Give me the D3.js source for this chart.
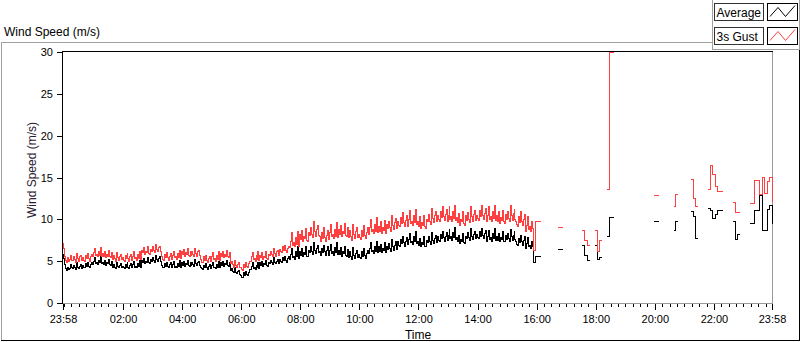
<!DOCTYPE html>
<html>
<head>
<meta charset="utf-8">
<script src="https://cdn.jsdelivr.net/npm/d3@7"></script>
<style>
html,body{margin:0;padding:0;background:#fff;}
svg{display:block;font-family:"Liberation Sans",Arial,sans-serif;}
</style>
</head>
<body>
<svg id="chart" width="800" height="342"></svg>
<script>
const _ = null;
const chartTitle = "Wind Speed (m/s)";
const yAxisTitle = "Wind Speed (m/s)";
const xAxisTitle = "Time";
const seriesNames = ["Average", "3s Gust"];
const seriesColors = ["#000000", "#ff4040"];
const startTime = "23:58";
const xTickLabels = ["23:58","02:00","04:00","06:00","08:00","10:00","12:00","14:00","16:00","18:00","20:00","22:00","23:58"];
const yTickValues = [0,5,10,15,20,25,30];

// continuous record: one sample every 2 minutes from 23:58
const denseStepMin = 2;
const denseAvg = [
5.8,5.3,4.6,4.1,3.9,4.3,4.0,4.1,4.6,4.2,
4.1,4.5,4.2,4.0,4.8,4.3,4.1,4.4,4.6,4.1,
4.5,4.3,4.2,4.7,4.4,4.9,4.4,4.2,4.6,4.8,
4.6,5.0,5.4,4.7,4.8,4.6,5.1,4.8,5.5,4.7,
4.9,4.6,5.1,4.5,4.8,4.7,5.2,4.6,4.5,5.0,
4.2,4.6,4.3,4.1,4.9,4.4,4.2,4.5,4.7,4.2,
4.4,4.2,4.1,4.6,4.3,4.8,4.3,4.1,4.5,4.7,
4.2,4.6,5.0,4.3,4.4,4.2,4.7,4.4,5.1,4.3,
5.1,4.8,5.3,4.7,5.0,4.9,5.4,4.8,4.7,5.2,
5.0,5.4,5.1,4.9,5.7,5.2,5.0,5.3,5.5,5.0,
4.5,4.3,4.2,4.7,4.4,4.9,4.4,4.2,4.6,4.8,
4.2,4.6,5.0,4.3,4.4,4.2,4.7,4.4,5.1,4.3,
4.8,4.5,5.0,4.4,4.7,4.6,5.1,4.5,4.4,4.9,
4.5,4.9,4.6,4.4,5.2,4.7,4.5,4.8,5.0,4.5,
4.3,4.1,4.0,4.5,4.2,4.7,4.2,4.0,4.4,4.6,
4.1,4.5,4.9,4.2,4.3,4.1,4.6,4.3,5.0,4.2,
4.8,4.5,5.0,4.4,4.7,4.6,5.1,4.5,4.4,4.9,
3.9,4.1,3.8,3.6,4.2,3.7,3.5,3.8,3.9,3.4,
3.3,3.1,3.0,3.6,3.3,3.8,3.4,3.3,3.7,4.0,
4.0,4.4,4.8,4.1,4.2,4.0,4.5,4.2,4.9,4.1,
4.8,4.5,5.0,4.4,4.7,4.6,5.1,4.5,4.4,4.9,
4.7,5.1,4.8,4.6,5.4,4.9,4.7,5.0,5.2,4.7,
5.2,5.0,4.9,5.4,5.1,5.6,5.1,4.9,5.3,5.5,
5.2,5.8,6.5,5.4,5.6,5.2,6.1,5.5,6.7,5.3,
6.2,5.7,6.5,5.5,6.0,5.8,6.7,5.6,5.5,6.3,
6.0,6.7,6.1,5.8,7.2,6.3,5.9,6.5,6.9,6.0,
6.2,5.8,5.7,6.5,6.0,6.9,6.1,5.7,6.3,6.7,
5.7,6.3,7.0,5.9,6.1,5.7,6.6,6.0,7.2,5.8,
6.3,5.8,6.6,5.6,6.1,5.9,6.8,5.7,5.6,6.4,
5.4,6.1,5.5,5.2,6.6,5.7,5.3,5.9,6.3,5.4,
5.8,5.4,5.3,6.1,5.6,6.5,5.7,5.3,5.9,6.3,
5.9,6.5,7.2,6.1,6.3,5.9,6.8,6.2,7.4,6.0,
6.7,6.2,7.0,6.0,6.5,6.3,7.2,6.1,6.0,6.8,
6.4,7.1,6.5,6.2,7.6,6.7,6.3,6.9,7.3,6.4,
7.3,6.9,6.8,7.6,7.1,8.0,7.2,6.8,7.4,7.8,
7.0,7.6,8.3,7.2,7.4,7.0,7.9,7.3,8.5,7.1,
7.4,6.9,7.7,6.7,7.2,7.0,7.9,6.8,6.7,7.5,
7.2,7.9,7.3,7.0,8.4,7.5,7.1,7.7,8.1,7.2,
7.9,7.5,7.4,8.2,7.7,8.6,7.8,7.4,8.0,8.4,
7.5,8.1,8.8,7.7,7.9,7.5,8.4,7.8,9.0,7.6,
7.8,7.3,8.1,7.1,7.6,7.4,8.3,7.2,7.1,7.9,
7.7,8.4,7.8,7.5,8.9,8.0,7.6,8.2,8.6,7.7,
8.2,7.8,7.7,8.5,8.0,8.9,8.1,7.7,8.3,8.7,
7.4,8.0,8.7,7.6,7.8,7.4,8.3,7.7,8.9,7.5,
8.0,7.5,8.3,7.3,7.8,7.6,8.5,7.4,7.3,8.1,
7.6,8.3,7.7,7.4,8.8,7.9,7.5,8.1,8.5,7.6,
7.4,7.0,6.9,7.7,7.2,8.1,7.3,6.9,7.5,7.9,
6.5,7.1,7.8,6.7,6.9,6.5,7.4,6.8
];
const denseGust = [
7.1,6.5,5.6,5.1,4.9,5.4,5.0,5.2,5.7,5.1,
5.1,5.6,5.2,4.9,5.9,5.3,5.0,5.5,5.7,5.1,
5.4,5.1,5.0,5.7,5.3,5.9,5.3,5.0,5.5,5.8,
5.5,6.0,6.5,5.7,5.8,5.5,6.2,5.7,6.6,5.6,
5.9,5.6,6.2,5.4,5.8,5.6,6.3,5.5,5.4,6.0,
5.2,5.7,5.3,5.0,6.0,5.4,5.1,5.6,5.8,5.2,
5.4,5.1,5.0,5.7,5.3,5.9,5.3,5.0,5.5,5.8,
5.1,5.6,6.1,5.3,5.4,5.1,5.8,5.3,6.2,5.2,
6.3,6.0,6.6,5.8,6.2,6.0,6.7,5.9,5.8,6.4,
6.2,6.7,6.3,6.0,7.0,6.4,6.1,6.6,6.8,6.2,
5.5,5.2,5.1,5.8,5.4,6.0,5.4,5.1,5.6,5.9,
5.2,5.7,6.2,5.4,5.5,5.2,5.9,5.4,6.3,5.3,
6.1,5.8,6.4,5.6,6.0,5.8,6.5,5.7,5.6,6.2,
5.7,6.2,5.8,5.5,6.5,5.9,5.6,6.1,6.3,5.7,
5.2,4.9,4.8,5.5,5.1,5.7,5.1,4.8,5.3,5.6,
5.0,5.5,6.0,5.2,5.3,5.0,5.7,5.2,6.1,5.1,
5.9,5.6,6.2,5.4,5.8,5.6,6.3,5.5,5.4,6.0,
4.7,5.0,4.6,4.3,5.1,4.5,4.2,4.6,4.8,4.2,
4.3,4.0,3.9,4.6,4.3,4.8,4.4,4.2,4.7,5.0,
5.0,5.5,6.0,5.2,5.3,5.0,5.7,5.2,6.1,5.1,
5.7,5.4,6.0,5.2,5.6,5.4,6.1,5.3,5.2,5.8,
5.7,6.2,5.8,5.5,6.5,5.9,5.6,6.1,6.3,5.7,
6.4,6.1,6.0,6.7,6.3,6.9,6.3,6.0,6.5,6.8,
6.6,7.4,8.4,6.9,7.2,6.7,7.8,7.0,8.6,6.8,
8.2,7.6,8.7,7.3,8.0,7.7,8.9,7.5,7.3,8.4,
8.1,9.0,8.2,7.8,9.7,8.5,8.0,8.8,9.3,8.1,
7.9,7.5,7.3,8.4,7.7,9.0,7.8,7.4,8.1,8.7,
7.6,8.4,9.4,7.9,8.2,7.7,8.8,8.0,9.6,7.8,
8.8,8.2,9.3,7.9,8.6,8.3,9.5,8.1,7.9,9.0,
7.8,8.7,7.9,7.5,9.4,8.2,7.7,8.5,9.0,7.8,
8.2,7.8,7.6,8.7,8.0,9.3,8.1,7.7,8.4,9.0,
8.2,9.0,10.0,8.5,8.8,8.3,9.4,8.6,10.2,8.4,
9.2,8.6,9.7,8.3,9.0,8.7,9.9,8.5,8.3,9.4,
8.9,9.8,9.0,8.6,10.5,9.3,8.8,9.6,10.1,8.9,
9.7,9.3,9.1,10.2,9.5,10.8,9.6,9.2,9.9,10.5,
9.2,10.0,11.0,9.5,9.8,9.3,10.4,9.6,11.2,9.4,
9.8,9.2,10.3,8.9,9.6,9.3,10.5,9.1,8.9,10.0,
9.7,10.6,9.8,9.4,11.3,10.1,9.6,10.4,10.9,9.7,
10.4,10.0,9.8,10.9,10.2,11.5,10.3,9.9,10.6,11.2,
9.7,10.5,11.5,10.0,10.3,9.8,10.9,10.1,11.7,9.9,
10.2,9.6,10.7,9.3,10.0,9.7,10.9,9.5,9.3,10.4,
9.9,10.8,10.0,9.6,11.5,10.3,9.8,10.6,11.1,9.9,
10.5,10.1,9.9,11.0,10.3,11.6,10.4,10.0,10.7,11.3,
9.7,10.5,11.5,10.0,10.3,9.8,10.9,10.1,11.7,9.9,
10.4,9.8,10.9,9.5,10.2,9.9,11.1,9.7,9.5,10.6,
10.0,10.9,10.1,9.7,11.6,10.4,9.9,10.7,11.2,10.0,
9.8,9.4,9.2,10.3,9.6,10.9,9.7,9.3,10.0,10.6,
8.5,9.3,10.3,8.8,9.1,8.6,9.7,8.9
];

// patchy record after 15:53: one sample every 5 minutes, null = no data
const lateStartMin = 955;
const lateStepMin = 5;
const lateAvg = [
4.9,5.5,5.5,5.5,_,_,_,_,_,
_,6.4,6.4,6.4,_,_,_,_,_,_,
_,6.9,5.7,5.1,5.1,_,6.9,5.2,5.4,5.4,
_,7.9,10.2,10.2,10.2,_,_,_,_,_,
_,_,_,_,_,_,_,_,_,_,
9.7,9.7,9.7,_,_,_,_,_,8.7,9.8,
9.8,_,_,_,_,10.9,10.3,7.7,7.7,_,
_,_,11.3,11.1,10.1,10.6,11.0,11.0,11.0,_,
_,_,9.8,7.6,8.2,8.2,_,_,_,9.5,
9.5,11.1,11.1,12.9,8.7,8.7,11.2,11.6,9.5
];
const lateGust = [
6.3,9.7,9.7,9.7,_,_,_,_,_,
_,9.0,9.0,9.0,_,_,_,_,_,_,
_,8.7,7.5,6.9,6.9,_,8.7,6.1,7.5,7.5,
_,13.6,30,30,30,_,_,_,_,_,
_,_,_,_,_,_,_,_,_,_,
12.9,12.9,12.9,_,_,_,_,_,11.5,13.0,
13.0,_,_,_,_,14.8,12.5,11.5,11.5,_,
_,_,13.6,16.4,15.3,13.9,13.3,13.3,13.3,_,
_,_,12.0,10.8,10.8,10.8,_,_,_,11.9,
11.9,14.6,14.6,13.0,15.0,13.1,14.5,15.0,12.1
];

const svg = d3.select("#chart");
const plotL = 63, plotR = 772, plotT = 52, plotB = 303;
const totalMin = 1440;

function toMin(lbl, isLast) {
  if (isLast) return totalMin;
  const [sh, sm] = startTime.split(":").map(Number);
  const [h, m] = lbl.split(":").map(Number);
  return ((h * 60 + m) - (sh * 60 + sm) + totalMin) % totalMin;
}
const majorTicks = xTickLabels.map((l, i) => toMin(l, i === xTickLabels.length - 1));
const minorTicks = d3.range(2, totalMin, 15).filter(m => !majorTicks.includes(m));

const x = d3.scaleLinear().domain([0, totalMin]).range([plotL, plotR]);
const y = d3.scaleLinear().domain([0, 30]).range([plotB, plotT]);

// outer frame
const frame = svg.append("g").attr("shape-rendering", "crispEdges");
frame.append("line").attr("x1", 1).attr("x2", 712.5).attr("y1", 42.5).attr("y2", 42.5).attr("stroke", "#a0a0a0");
frame.append("line").attr("x1", 1.5).attr("x2", 1.5).attr("y1", 42).attr("y2", 341).attr("stroke", "#a0a0a0");
frame.append("line").attr("x1", 1).attr("x2", 800).attr("y1", 340.5).attr("y2", 340.5).attr("stroke", "#000");
frame.append("line").attr("x1", 799.5).attr("x2", 799.5).attr("y1", 50).attr("y2", 341).attr("stroke", "#000");
frame.append("line").attr("x1", 712.5).attr("x2", 712.5).attr("y1", 0).attr("y2", 49.5).attr("stroke", "#a0a0a0");
frame.append("line").attr("x1", 712.5).attr("x2", 799).attr("y1", 49.5).attr("y2", 49.5).attr("stroke", "#a0a0a0");
frame.append("line").attr("x1", 799.5).attr("x2", 799.5).attr("y1", 0).attr("y2", 49.5).attr("stroke", "#a0a0a0");

// title
svg.append("text").attr("x", 4).attr("y", 35.5).attr("font-size", 12).attr("fill", "#000").text(chartTitle);

// plot frame
const pf = svg.append("g").attr("shape-rendering", "crispEdges");
pf.append("rect").attr("x", plotL).attr("y", plotT).attr("width", plotR - plotL).attr("height", plotB - plotT).attr("fill", "#fff");
pf.append("line").attr("x1", plotL - 1).attr("x2", plotR + 1).attr("y1", plotT - 0.5).attr("y2", plotT - 0.5).attr("stroke", "#000");
pf.append("line").attr("x1", plotL - 0.5).attr("x2", plotL - 0.5).attr("y1", plotT - 1).attr("y2", plotB + 1).attr("stroke", "#000");
pf.append("line").attr("x1", plotR + 0.5).attr("x2", plotR + 0.5).attr("y1", plotT).attr("y2", plotB + 1).attr("stroke", "#999");
pf.append("line").attr("x1", plotL).attr("x2", plotR + 1).attr("y1", plotB + 0.5).attr("y2", plotB + 0.5).attr("stroke", "#999");

// y axis
const yAxis = svg.append("g").attr("transform", `translate(${plotL - 1},0)`)
  .call(d3.axisLeft(y).tickValues(yTickValues).tickSize(5).tickPadding(4).tickFormat(d3.format("d")));
yAxis.select(".domain").remove();
yAxis.selectAll("text").attr("font-size", 11).attr("font-family", "Liberation Sans, Arial, sans-serif").attr("fill", "#000");
yAxis.selectAll("line").attr("stroke", "#000").attr("shape-rendering", "crispEdges");

// x axis major & minor
const xMajor = svg.append("g").attr("transform", `translate(0,${plotB + 1})`)
  .call(d3.axisBottom(x).tickValues(majorTicks).tickSize(6).tickPadding(5).tickFormat((d, i) => xTickLabels[i]));
xMajor.select(".domain").remove();
xMajor.selectAll("text").attr("font-size", 11).attr("font-family", "Liberation Sans, Arial, sans-serif").attr("fill", "#000");
xMajor.selectAll("line").attr("stroke", "#000").attr("shape-rendering", "crispEdges");
const xMinor = svg.append("g").attr("transform", `translate(0,${plotB + 1})`)
  .call(d3.axisBottom(x).tickValues(minorTicks).tickSize(3).tickFormat(""));
xMinor.select(".domain").remove();
xMinor.selectAll("line").attr("stroke", "#000").attr("shape-rendering", "crispEdges");

// axis titles
svg.append("text").attr("x", 418).attr("y", 338.5).attr("text-anchor", "middle").attr("font-size", 12).attr("fill", "#000").text(xAxisTitle);
svg.append("text").attr("transform", "translate(36,170) rotate(-90)").attr("text-anchor", "middle").attr("font-size", 12).attr("fill", "#2a2030").text(yAxisTitle);

// data
const data = denseAvg.map((v, i) => ({ t: i * denseStepMin, avg: v, gust: denseGust[i] }))
  .concat(lateAvg.map((v, i) => ({ t: lateStartMin + i * lateStepMin, avg: v, gust: lateGust[i] })));
const keys = ["avg", "gust"];
const plotG = svg.append("g");
keys.forEach((k, si) => {
  const line = d3.line()
    .defined(d => d[k] != null)
    .x(d => x(d.t))
    .y(d => y(d[k]))
    .curve(d3.curveStepAfter);
  plotG.append("path").datum(data).attr("d", line)
    .attr("fill", "none").attr("stroke", seriesColors[si]).attr("stroke-width", 1)
    .attr("shape-rendering", "crispEdges");
});

// legend
const leg = svg.append("g");
seriesNames.forEach((name, i) => {
  const oy = 3.5 + i * 24;
  leg.append("rect").attr("x", 714.5).attr("y", oy).attr("width", 49).attr("height", 17)
    .attr("fill", "#fff").attr("stroke", "#333").attr("shape-rendering", "crispEdges");
  leg.append("text").attr("x", 716.5).attr("y", oy + 13.5).attr("font-size", 12).attr("fill", "#000").text(name);
  leg.append("rect").attr("x", 767.5).attr("y", oy).attr("width", 30).attr("height", 17)
    .attr("fill", "#fff").attr("stroke", "#000").attr("shape-rendering", "crispEdges");
  const pts = [[770, oy + 13], [778, oy + 4], [785.5, oy + 13], [795, oy + 2]];
  leg.append("path").attr("d", d3.line()(pts)).attr("fill", "none").attr("stroke", seriesColors[i]).attr("stroke-width", 1);
});
</script>
</body>
</html>
